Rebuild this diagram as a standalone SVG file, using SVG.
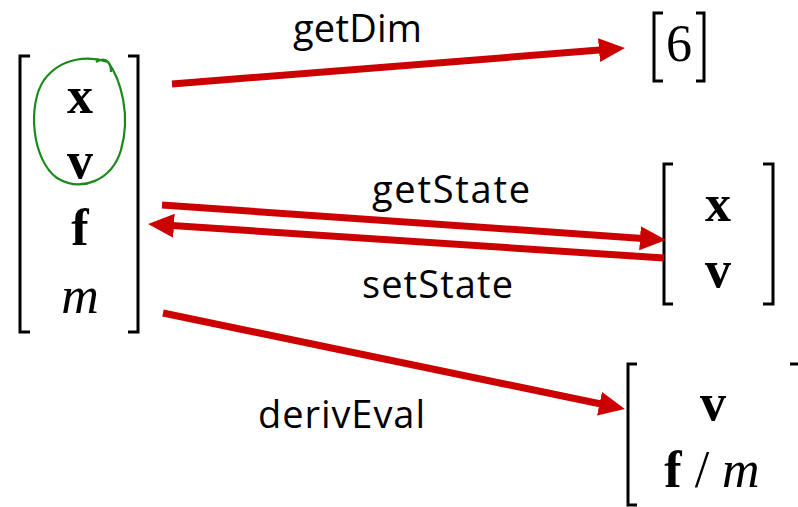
<svg xmlns="http://www.w3.org/2000/svg" width="798" height="507" viewBox="0 0 798 507">
<style>
.br{fill:none;stroke:#000;stroke-width:3}
.m{font-family:"Liberation Serif",serif;font-size:52px;text-anchor:middle;fill:#000}
.b{font-weight:bold}
.i{font-style:italic}
.lbl{font-family:"Open Sans","Liberation Sans",sans-serif;font-size:38px;fill:#000}
.ar{stroke:#cc0000;stroke-width:7;fill:none;marker-end:url(#ah)}
</style>
<defs>
<marker id="ah" markerUnits="userSpaceOnUse" markerWidth="28" markerHeight="26" refX="10" refY="12" orient="auto">
<path d="M0,0 L26,12 L0,24 z" fill="#cc0000"/>
</marker>
</defs>
<g id="state">
<path class="br" d="M30,56 H20 V332 H30"/>
<path class="br" d="M128,56 H138 V332 H128"/>
<text class="m b" x="80" y="113">x</text>
<text class="m b" x="80" y="178">v</text>
<text class="m b" x="80" y="245">f</text>
<text class="m i" x="80" y="313">m</text>
<path d="M96,62 C102,58 111,58 111,72 M108,62 C90,56 62,56 44,80 C27,105 32,160 57,178 C82,193 112,180 121,150 C131,115 121,80 108,62" fill="none" stroke="#1a8a1a" stroke-width="2.2"/>
</g>
<g id="dim">
<path class="br" d="M663,13 H654 V81 H663" stroke-width="2.5"/>
<path class="br" d="M696,13 H704 V81 H696" stroke-width="2.5"/>
<text class="m" x="679" y="61">6</text>
</g>
<g id="xv">
<path class="br" d="M673,164 H664 V304 H673"/>
<path class="br" d="M763,164 H773 V304 H763"/>
<text class="m b" x="718" y="221">x</text>
<text class="m b" x="718" y="287">v</text>
</g>
<g id="deriv">
<path class="br" d="M637,364 H628 V505 H637"/>
<path class="br" d="M790,364 H799"/>
<text class="m b" x="713" y="420">v</text>
<text class="m" x="712" y="487"><tspan class="b">f</tspan> / <tspan class="i">m</tspan></text>
</g>
<g id="connectors">
<line class="ar" x1="172" y1="84" x2="609" y2="49.3"/>
<line class="ar" x1="162" y1="205" x2="650" y2="238.9"/>
<line class="ar" x1="664" y1="258" x2="164" y2="225"/>
<line class="ar" x1="163" y1="313" x2="609.3" y2="405.7"/>
<text class="lbl" x="293" y="42" textLength="129" lengthAdjust="spacing">getDim</text>
<text class="lbl" x="372" y="203" textLength="158" lengthAdjust="spacing">getState</text>
<text class="lbl" x="362" y="298" textLength="151" lengthAdjust="spacing">setState</text>
<text class="lbl" x="258" y="428" textLength="167" lengthAdjust="spacing">derivEval</text>
</g>
</svg>
